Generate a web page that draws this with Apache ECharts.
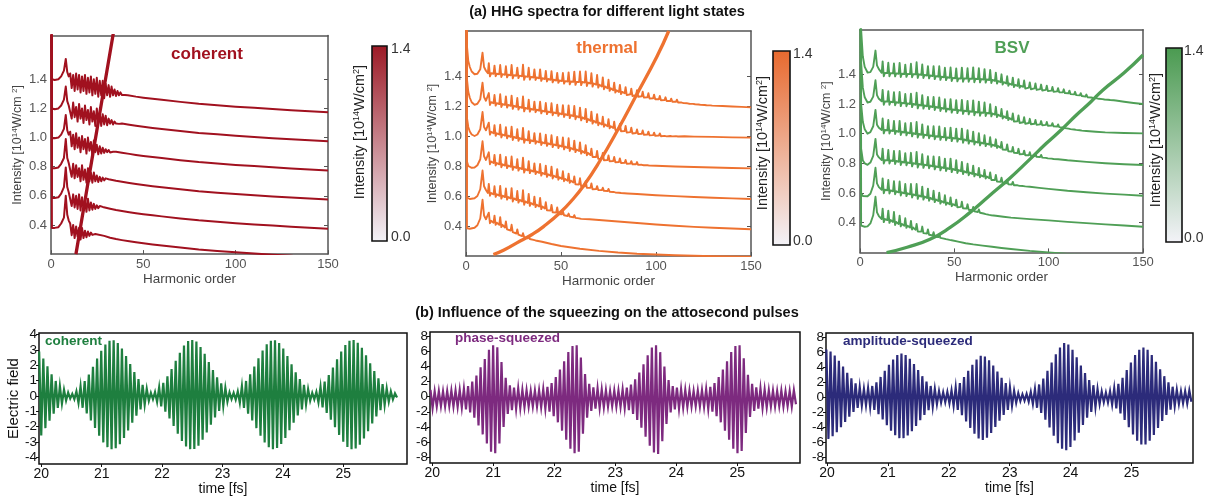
<!DOCTYPE html>
<html>
<head>
<meta charset="utf-8">
<script src="https://cdn.jsdelivr.net/npm/echarts@6/dist/echarts.min.js"></script>
<style>
  html, body { margin: 0; padding: 0; background: #ffffff; }
  #chart { width: 1215px; height: 497px; }
</style>
</head>
<body>
<div id="chart"></div>
<script>
// ---------------- HHG spectra (offset waterfall, one curve per peak intensity) ----------------
const intensityLevels = [0.4, 0.6, 0.8, 1.0, 1.2, 1.4];
const intensityTicks = [0.4, 0.6, 0.8, 1.0, 1.2, 1.4];
const harmonicTicks = [0, 50, 100, 150];
const colorbarLabels = ['1.4', '0.0'];

// harmonic orders of the plateau peaks (thermal and BSV)
const plateauPeakOrders = [12, 15, 18, 21, 24, 27, 30, 33, 36, 39, 42, 45, 48, 51, 54, 57, 60, 63, 66, 69,
  72, 75, 78, 81, 84, 87, 90, 93, 96, 99, 102, 105, 108, 111, 114, 117, 120, 123, 126, 129, 132, 135];

// coherent: values relative to the curve level
const coherentHeadOrders = [0, 0.5, 2, 4, 5.5, 7, 8, 8.8, 9.6];
const coherentHead = [
  [2.5, -0.02, -0.02, -0.015, 0.01, 0.05, 0.2, 0.07, 0.03],
  [2.5, -0.015, -0.015, -0.01, 0.015, 0.06, 0.195, 0.06, 0.025],
  [2.5, -0.01, -0.01, -0.005, 0.02, 0.06, 0.19, 0.06, 0.025],
  [2.5, -0.005, -0.005, 0.0, 0.02, 0.06, 0.155, 0.05, 0.02],
  [2.5, 0.0, -0.005, 0.0, 0.02, 0.06, 0.15, 0.05, 0.02],
  [2.5, 0.0, -0.005, 0.0, 0.02, 0.06, 0.14, 0.05, 0.02]
];
const coherentRippleStart = 10.4;   // harmonic order of the first ripple sample
const coherentRippleStep = 0.8;     // spacing of ripple samples
const coherentRipple = [
  [0.01, -0.07, 0.0, -0.09, -0.01, -0.08, -0.02, -0.1, -0.02, -0.09, -0.04, -0.085, -0.045, -0.075, -0.052, -0.068, -0.058, -0.062],
  [0.03, -0.07, 0.01, -0.08, 0.0, -0.09, 0.01, -0.1, -0.01, -0.09, -0.03, -0.11, -0.02, -0.1, -0.045, -0.095, -0.055, -0.09, -0.065, -0.085, -0.07, -0.08, -0.076],
  [0.03, -0.07, 0.02, -0.08, 0.01, -0.07, -0.01, -0.1, 0.01, -0.09, -0.02, -0.11, -0.01, -0.1, -0.04, -0.11, -0.04, -0.1, -0.06, -0.105, -0.07, -0.1, -0.075, -0.094, -0.08, -0.09, -0.086],
  [0.04, -0.06, 0.02, -0.08, 0.03, -0.07, 0.0, -0.1, 0.01, -0.08, -0.01, -0.11, 0.0, -0.09, -0.03, -0.12, -0.02, -0.1, -0.05, -0.115, -0.06, -0.11, -0.07, -0.105, -0.08, -0.1, -0.085, -0.102, -0.09, -0.098, -0.095],
  [0.03, -0.07, 0.04, -0.06, 0.01, -0.09, 0.03, -0.07, 0.0, -0.1, 0.02, -0.08, -0.01, -0.11, 0.01, -0.09, -0.02, -0.12, 0.0, -0.1, -0.03, -0.12, -0.04, -0.11, -0.05, -0.115, -0.07, -0.105, -0.08, -0.11, -0.09, -0.104, -0.095, -0.106, -0.1],
  [0.04, -0.06, 0.03, -0.08, 0.04, -0.07, 0.03, -0.09, 0.02, -0.08, 0.03, -0.1, 0.01, -0.09, 0.02, -0.11, 0.0, -0.1, 0.01, -0.12, -0.01, -0.11, -0.01, -0.13, -0.03, -0.11, -0.04, -0.12, -0.05, -0.11, -0.07, -0.115, -0.08, -0.11, -0.09, -0.108, -0.097, -0.108, -0.102, -0.11]
];
const coherentTailOrders = [24.8, 28.8, 32, 35.2, 38.4, 42.4, 46, 50, 55, 60, 70, 80, 90, 100, 110, 120, 130, 140, 150];
const coherentTail = [-0.06, -0.075, -0.088, -0.097, -0.104, -0.112, -0.119, -0.126, -0.134, -0.141, -0.155, -0.168, -0.178, -0.188, -0.196, -0.204, -0.212, -0.219, -0.226];
const coherentCutoff = [[13.5, 0.2], [18.5, 0.575], [23.5, 0.95], [28.5, 1.325], [33.8, 1.72]];

// thermal
const thermalHeadOrders = [0, 0.5, 1.2, 2, 3, 4.5, 6, 7.5, 8.7, 9.5, 10.5];
const thermalHead = [
  [2.5, -0.015, -0.018, -0.018, -0.018, -0.012, 0.005, 0.05, 0.175, 0.07, 0.045],
  [2.5, -0.01, -0.018, -0.02, -0.02, -0.015, 0.0, 0.045, 0.17, 0.065, 0.04],
  [2.5, 0.03, 0.0, -0.01, -0.012, -0.01, 0.005, 0.045, 0.165, 0.065, 0.04],
  [2.5, 0.12, 0.06, 0.03, 0.01, 0.0, 0.01, 0.045, 0.16, 0.06, 0.038],
  [2.5, 0.18, 0.095, 0.055, 0.025, 0.008, 0.015, 0.045, 0.155, 0.06, 0.035],
  [2.5, 0.2, 0.1, 0.06, 0.03, 0.012, 0.015, 0.045, 0.155, 0.06, 0.035]
];
const thermalBase = [
  [0.035, 0.022, 0.008, -0.01, -0.03, -0.05, -0.068, -0.082, -0.093],
  [0.02, 0.011, 0.002, -0.007, -0.016, -0.026, -0.036, -0.047, -0.058, -0.07, -0.083, -0.097, -0.11, -0.122, -0.133, -0.142, -0.149],
  [0.03, 0.02, 0.011, 0.003, -0.005, -0.013, -0.021, -0.029, -0.037, -0.046, -0.055, -0.065, -0.075, -0.086, -0.098, -0.11, -0.123, -0.135, -0.146, -0.154, -0.161, -0.167, -0.173, -0.178],
  [0.028, 0.018, 0.01, 0.002, -0.006, -0.014, -0.022, -0.029, -0.035, -0.042, -0.049, -0.056, -0.063, -0.071, -0.08, -0.09, -0.1, -0.113, -0.127, -0.14, -0.151, -0.16, -0.167, -0.173, -0.179, -0.184, -0.188, -0.192, -0.195],
  [0.025, 0.019, 0.013, 0.007, 0.001, -0.006, -0.013, -0.019, -0.025, -0.031, -0.037, -0.043, -0.049, -0.055, -0.061, -0.068, -0.076, -0.087, -0.099, -0.111, -0.123, -0.135, -0.147, -0.158, -0.167, -0.174, -0.18, -0.185, -0.19, -0.194, -0.197, -0.199, -0.2, -0.201],
  [0.018, 0.015, 0.012, 0.008, 0.005, 0.002, -0.002, -0.006, -0.01, -0.015, -0.02, -0.025, -0.03, -0.034, -0.037, -0.039, -0.04, -0.044, -0.05, -0.058, -0.07, -0.082, -0.095, -0.106, -0.115, -0.122, -0.128, -0.135, -0.142, -0.148, -0.155, -0.161, -0.167, -0.172, -0.177, -0.182, -0.186, -0.19, -0.193, -0.196]
];
const thermalPeakHeight = [
  [0.054, 0.047, 0.051, 0.041, 0.038, 0.027, 0.02, 0.016, 0.011],
  [0.061, 0.054, 0.065, 0.057, 0.068, 0.059, 0.074, 0.061, 0.054, 0.057, 0.041, 0.038, 0.034, 0.02, 0.016, 0.014, 0.011],
  [0.061, 0.054, 0.065, 0.057, 0.068, 0.059, 0.076, 0.061, 0.054, 0.059, 0.057, 0.061, 0.054, 0.051, 0.047, 0.041, 0.041, 0.034, 0.03, 0.02, 0.016, 0.014, 0.011, 0.008],
  [0.061, 0.054, 0.065, 0.057, 0.068, 0.059, 0.076, 0.061, 0.054, 0.059, 0.057, 0.061, 0.057, 0.061, 0.065, 0.059, 0.057, 0.051, 0.043, 0.041, 0.038, 0.03, 0.027, 0.024, 0.019, 0.016, 0.014, 0.011, 0.008],
  [0.061, 0.054, 0.065, 0.057, 0.068, 0.059, 0.076, 0.061, 0.054, 0.059, 0.057, 0.061, 0.057, 0.061, 0.065, 0.068, 0.065, 0.068, 0.061, 0.057, 0.051, 0.047, 0.043, 0.038, 0.034, 0.03, 0.024, 0.022, 0.019, 0.016, 0.014, 0.011, 0.009, 0.008],
  [0.068, 0.054, 0.061, 0.057, 0.068, 0.054, 0.078, 0.061, 0.054, 0.059, 0.054, 0.057, 0.051, 0.054, 0.061, 0.068, 0.07, 0.074, 0.068, 0.065, 0.061, 0.057, 0.051, 0.047, 0.041, 0.038, 0.034, 0.03, 0.027, 0.024, 0.022, 0.019, 0.016, 0.014, 0.012, 0.011, 0.009, 0.008, 0.007, 0.005]
];
const thermalTail = [
  [[40, -0.105], [45, -0.12], [50, -0.133], [60, -0.152], [70, -0.166], [80, -0.177], [90, -0.185], [100, -0.19], [110, -0.195], [120, -0.198], [130, -0.201], [150, -0.205]],
  [[65, -0.155], [70, -0.16], [80, -0.17], [90, -0.18], [100, -0.19], [110, -0.198], [120, -0.206], [130, -0.212], [140, -0.217], [150, -0.222]],
  [[85, -0.183], [90, -0.187], [100, -0.195], [110, -0.201], [120, -0.207], [130, -0.212], [140, -0.216], [150, -0.22]],
  [[100, -0.198], [110, -0.203], [120, -0.207], [130, -0.21], [140, -0.213], [150, -0.216]],
  [[115, -0.202], [120, -0.204], [130, -0.206], [140, -0.209], [150, -0.211]],
  [[135, -0.2], [140, -0.203], [145, -0.206], [150, -0.209]]
];
const thermalCutoff = [[14.4, 0.21], [20, 0.24], [28.5, 0.3], [35, 0.345], [40.8, 0.396], [49.6, 0.49], [56, 0.575],
  [62, 0.67], [69.8, 0.82], [79.4, 1.03], [90, 1.28], [100.5, 1.53], [106.7, 1.7]];

// bright squeezed vacuum
const bsvHeadOrders = [0, 0.6, 1.5, 2.5, 4, 5.5, 7, 8.2, 9, 10];
const bsvHead = [
  [2.5, -0.02, -0.027, -0.027, -0.025, -0.005, 0.05, 0.175, 0.07, 0.045],
  [2.5, 0.0, -0.02, -0.022, -0.022, -0.005, 0.05, 0.17, 0.065, 0.04],
  [2.5, 0.1, 0.02, 0.0, -0.01, 0.005, 0.05, 0.165, 0.06, 0.04],
  [2.5, 0.2, 0.08, 0.03, 0.0, 0.01, 0.05, 0.16, 0.06, 0.04],
  [2.5, 0.28, 0.11, 0.045, 0.01, 0.015, 0.05, 0.16, 0.06, 0.035],
  [2.5, 0.3, 0.12, 0.05, 0.012, 0.015, 0.05, 0.16, 0.06, 0.035]
];
const bsvBase = [
  [0.025, 0.018, 0.005, -0.008, -0.02, -0.033, -0.047, -0.06, -0.073, -0.086, -0.097, -0.107, -0.116],
  [0.022, 0.018, 0.012, 0.005, -0.002, -0.009, -0.016, -0.024, -0.033, -0.043, -0.054, -0.065, -0.075, -0.084, -0.093, -0.104, -0.116, -0.128, -0.138, -0.147],
  [0.022, 0.02, 0.016, 0.011, 0.006, 0.001, -0.004, -0.009, -0.014, -0.02, -0.026, -0.032, -0.038, -0.045, -0.053, -0.062, -0.071, -0.08, -0.089, -0.1, -0.112, -0.124, -0.134, -0.142, -0.148, -0.153],
  [0.025, 0.022, 0.018, 0.013, 0.008, 0.003, -0.002, -0.007, -0.012, -0.017, -0.021, -0.025, -0.029, -0.033, -0.039, -0.046, -0.053, -0.06, -0.067, -0.074, -0.083, -0.095, -0.108, -0.12, -0.13, -0.138, -0.145, -0.151, -0.157, -0.163, -0.168],
  [0.018, 0.016, 0.012, 0.008, 0.004, 0, -0.005, -0.01, -0.015, -0.02, -0.026, -0.032, -0.037, -0.041, -0.045, -0.049, -0.053, -0.057, -0.06, -0.064, -0.072, -0.083, -0.095, -0.106, -0.116, -0.123, -0.128, -0.133, -0.137, -0.141, -0.146, -0.152, -0.159, -0.166, -0.172, -0.177],
  [0.01, 0.008, 0.006, 0.004, 0.002, 0.001, 0, -0.004, -0.008, -0.012, -0.016, -0.02, -0.024, -0.027, -0.028, -0.029, -0.03, -0.032, -0.035, -0.038, -0.045, -0.053, -0.062, -0.071, -0.078, -0.084, -0.09, -0.095, -0.1, -0.105, -0.11, -0.115, -0.121, -0.128, -0.135, -0.142, -0.15, -0.156, -0.162, -0.167, -0.171, -0.175]
];
const bsvPeakHeight = [
  [0.07, 0.063, 0.067, 0.056, 0.05, 0.045, 0.039, 0.034, 0.028, 0.022, 0.017, 0.013, 0.008],
  [0.077, 0.07, 0.067, 0.073, 0.063, 0.07, 0.077, 0.067, 0.063, 0.059, 0.056, 0.05, 0.045, 0.039, 0.034, 0.028, 0.022, 0.017, 0.013, 0.008],
  [0.077, 0.07, 0.067, 0.073, 0.063, 0.07, 0.081, 0.07, 0.063, 0.067, 0.07, 0.064, 0.07, 0.067, 0.063, 0.059, 0.056, 0.049, 0.045, 0.039, 0.034, 0.028, 0.022, 0.017, 0.013, 0.008],
  [0.077, 0.07, 0.067, 0.073, 0.063, 0.07, 0.081, 0.07, 0.063, 0.067, 0.07, 0.064, 0.07, 0.067, 0.073, 0.07, 0.067, 0.063, 0.056, 0.05, 0.045, 0.039, 0.035, 0.031, 0.028, 0.024, 0.02, 0.017, 0.014, 0.011, 0.008],
  [0.077, 0.07, 0.067, 0.073, 0.063, 0.07, 0.081, 0.07, 0.063, 0.067, 0.07, 0.064, 0.07, 0.067, 0.073, 0.07, 0.077, 0.073, 0.07, 0.063, 0.053, 0.049, 0.046, 0.042, 0.039, 0.034, 0.028, 0.025, 0.022, 0.02, 0.017, 0.014, 0.013, 0.011, 0.008, 0.007],
  [0.077, 0.07, 0.067, 0.073, 0.063, 0.07, 0.081, 0.07, 0.063, 0.067, 0.07, 0.064, 0.07, 0.067, 0.073, 0.07, 0.077, 0.073, 0.07, 0.067, 0.056, 0.053, 0.049, 0.049, 0.045, 0.042, 0.035, 0.034, 0.031, 0.028, 0.025, 0.022, 0.02, 0.018, 0.017, 0.015, 0.014, 0.011, 0.01, 0.008, 0.007, 0.006]
];
const bsvTail = [
  [[52, -0.127], [56, -0.138], [60, -0.146], [65, -0.154], [70, -0.162], [75, -0.17], [80, -0.177], [90, -0.19], [100, -0.2], [110, -0.21], [120, -0.218]],
  [[72, -0.153], [76, -0.16], [80, -0.166], [90, -0.176], [100, -0.184], [110, -0.194], [120, -0.203], [130, -0.211], [140, -0.219], [150, -0.227]],
  [[90, -0.158], [95, -0.165], [100, -0.172], [110, -0.185], [120, -0.195], [130, -0.204], [140, -0.211], [150, -0.218]],
  [[105, -0.172], [110, -0.179], [120, -0.19], [130, -0.199], [140, -0.206], [150, -0.211]],
  [[120, -0.182], [125, -0.187], [130, -0.191], [140, -0.195], [150, -0.198]],
  [[140, -0.185], [145, -0.193], [150, -0.2]]
];
const bsvCutoff = [[14.1, 0.198], [25, 0.235], [37.1, 0.288], [48, 0.37], [58.2, 0.468], [68, 0.575], [79.4, 0.7],
  [89, 0.815], [98.8, 0.935], [107, 1.03], [114.7, 1.126], [122, 1.21], [128.8, 1.295], [140, 1.41], [150, 1.53]];

// ---------------- attosecond pulse trains: field extrema per carrier cycle ----------------
const timeTicks = [20, 21, 22, 23, 24, 25];
const fieldTicksCoherent = [-4, -3, -2, -1, 0, 1, 2, 3, 4];
const fieldTicksSqueezed = [-8, -6, -4, -2, 0, 2, 4, 6, 8];
const carrierPeriod = 0.0685;   // fs between successive maxima
const coherentStart = 19.965;
const phaseStart = 19.97;
const amplitudeStart = 19.99;

const coherentMax = [2.9, 2.45, 1.93, 1.42, 0.98, 0.64, 0.4, 0.22, 0.14, 0.3,
  0.63, 0.97, 1.4, 1.91, 2.44, 2.95, 3.36, 3.6, 3.64, 3.46,
  3.1, 2.6, 2.08, 1.56, 1.1, 0.73, 0.46, 0.2, 0.25, 0.56,
  0.86, 1.28, 1.76, 2.3, 2.82, 3.3, 3.58, 3.65, 3.55, 3.2,
  2.76, 2.22, 1.7, 1.22, 0.83, 0.53, 0.24, 0.2, 0.3, 0.64,
  0.98, 1.42, 1.92, 2.46, 2.96, 3.37, 3.61, 3.64, 3.45, 3.1,
  2.6, 2.07, 1.55, 1.1, 0.72, 0.45, 0.2, 0.26, 0.6, 0.94,
  1.36, 1.86, 2.4, 2.9, 3.33, 3.6, 3.65, 3.48, 3.14, 2.66,
  2.14, 1.62, 1.15, 0.77, 0.49, 0.3, 0.17];
const coherentMin = [-2.57, -2.1, -1.61, -1.15, -0.78, -0.5, -0.3, -0.17, -0.21, -0.45,
  -0.77, -1.14, -1.59, -2.09, -2.59, -3.03, -3.34, -3.48, -3.41, -3.15,
  -2.74, -2.25, -1.75, -1.28, -0.88, -0.57, -0.32, -0.22, -0.39, -0.68,
  -1.03, -1.46, -1.95, -2.46, -2.94, -3.3, -3.47, -3.46, -3.24, -2.86,
  -2.39, -1.88, -1.4, -0.98, -0.65, -0.37, -0.21, -0.24, -0.45, -0.78,
  -1.15, -1.6, -2.1, -2.6, -3.04, -3.35, -3.48, -3.4, -3.14, -2.74,
  -2.24, -1.74, -1.27, -0.87, -0.56, -0.31, -0.22, -0.41, -0.74, -1.1,
  -1.55, -2.04, -2.54, -2.99, -3.33, -3.48, -3.42, -3.18, -2.78, -2.3,
  -1.8, -1.33, -0.92, -0.6, -0.38, -0.23, -0.1];

const phaseMax = [0.9, 0.7, 0.75, 0.7, 0.75, 0.8, 0.8, 0.9, 1.05, 1.4,
  2.0, 2.8, 3.9, 5.0, 6.2, 6.8, 6.55, 4.6, 2.5, 1.5,
  1.2, 1.1, 0.9, 0.85, 0.75, 0.8, 0.85, 1.0, 1.3, 1.8,
  2.6, 3.6, 4.7, 5.9, 6.7, 6.8, 5.2, 3.0, 1.7, 1.25,
  1.1, 0.95, 0.85, 0.75, 0.8, 0.8, 0.95, 1.2, 1.6, 2.3,
  3.2, 4.3, 5.5, 6.5, 6.8, 5.9, 4.0, 2.2, 1.4, 1.2,
  1.0, 0.9, 0.8, 0.75, 0.8, 0.85, 1.0, 1.3, 1.8, 2.6,
  3.6, 4.7, 5.9, 6.7, 6.8, 5.1, 2.9, 1.7, 1.25, 1.1,
  0.95, 0.85, 0.8, 0.75, 0.8, 0.7, 0.75, 0.85];
const phaseMin = [-1.5, -1.3, -1.25, -1.3, -1.25, -1.3, -1.35, -1.45, -1.7, -2.1,
  -2.8, -3.8, -5.0, -6.2, -7.3, -7.5, -6.2, -4.0, -2.3, -1.8,
  -1.6, -1.5, -1.4, -1.3, -1.3, -1.3, -1.4, -1.6, -2.0, -2.6,
  -3.4, -4.5, -5.7, -6.9, -7.5, -7.3, -4.9, -2.8, -1.9, -1.6,
  -1.5, -1.4, -1.3, -1.25, -1.3, -1.35, -1.5, -1.8, -2.3, -3.1,
  -4.1, -5.3, -6.5, -7.4, -7.6, -5.9, -3.6, -2.1, -1.7, -1.6,
  -1.45, -1.35, -1.3, -1.25, -1.3, -1.35, -1.6, -2.0, -2.6, -3.4,
  -4.5, -5.7, -6.9, -7.5, -7.2, -4.8, -2.7, -1.9, -1.6, -1.5,
  -1.4, -1.3, -1.3, -1.25, -1.3, -1.25, -1.3, -1.0];

const amplitudeMax = [6.35, 6.06, 5.54, 4.84, 4.07, 3.26, 2.52, 1.85, 1.35, 1.1,
  1.2, 1.5, 2.0, 2.7, 3.5, 4.3, 5.0, 5.6, 5.8, 5.6,
  5.1, 4.4, 3.6, 2.8, 2.1, 1.5, 1.1, 0.8, 0.65, 0.7,
  0.9, 1.3, 1.9, 2.7, 3.5, 4.3, 5.0, 5.5, 5.4, 4.9,
  4.2, 3.4, 2.6, 1.9, 1.3, 0.85, 0.55, 0.4, 0.45, 0.7,
  1.1, 1.7, 2.5, 3.5, 4.6, 5.7, 6.6, 7.2, 7.0, 6.3,
  5.3, 4.2, 3.2, 2.3, 1.6, 1.1, 0.75, 0.6, 0.8, 1.2,
  1.8, 2.6, 3.6, 4.6, 5.6, 6.3, 6.6, 6.3, 5.6, 4.7,
  3.7, 2.8, 2.0, 1.4, 1.0, 0.8, 0.8, 0.9];
const amplitudeMin = [-5.52, -5.16, -4.62, -3.97, -3.26, -2.57, -1.95, -1.42, -1.1, -1.05,
  -1.28, -1.66, -2.23, -2.95, -3.7, -4.42, -5.04, -5.42, -5.42, -5.08,
  -4.51, -3.8, -3.04, -2.33, -1.71, -1.24, -0.9, -0.69, -0.64, -0.8,
  -1.14, -1.66, -2.39, -3.22, -4.06, -4.84, -5.46, -5.67, -5.36, -4.73,
  -3.95, -3.12, -2.34, -1.66, -1.12, -0.73, -0.49, -0.44, -0.57, -0.89,
  -1.39, -2.08, -2.97, -4.01, -5.1, -6.09, -6.83, -7.03, -6.58, -5.74,
  -4.7, -3.66, -2.72, -1.93, -1.32, -0.9, -0.65, -0.68, -0.97, -1.46,
  -2.13, -3.0, -3.98, -4.95, -5.77, -6.26, -6.26, -5.77, -5.0, -4.07,
  -3.15, -2.33, -1.65, -1.16, -0.87, -0.78, -0.82, -0.6];

// ---------------- styling ----------------
const FONT = '"Liberation Sans", Arial, Helvetica, sans-serif';
const RED = '#a1111f', ORANGE = '#ee7230', GREEN = '#4f9f56';
const FIELD_GREEN = '#1e7f3f', FIELD_PURPLE = '#7d2a7f', FIELD_NAVY = '#2c2b7a';
const FRAME = '#555555';
const PEAK_HALF_WIDTH = 0.5;   // half width of a drawn harmonic peak, in harmonic orders
const PEAK_UNDERSHOOT = 0.3;   // dip after each harmonic peak, as a share of its height

// ---------------- curve builders ----------------
function plateauCurve(level, headOrders, head, base, height, tail) {
  const pts = headOrders.map((o, i) => [o, level + head[i]]);
  base.forEach((b, i) => {
    const o = plateauPeakOrders[i];
    const h = height[i];
    pts.push([o - PEAK_HALF_WIDTH, level + b], [o, level + b + h],
      [o + PEAK_HALF_WIDTH * 1.2, level + b - h * PEAK_UNDERSHOOT], [o + PEAK_HALF_WIDTH * 2.4, level + b]);
  });
  tail.forEach(([o, v]) => pts.push([o, level + v]));
  return pts;
}
function coherentCurve(idx) {
  const level = intensityLevels[idx];
  const pts = coherentHeadOrders.map((o, i) => [o, level + coherentHead[idx][i]]);
  const ripple = coherentRipple[idx];
  ripple.forEach((v, i) => pts.push([coherentRippleStart + i * coherentRippleStep, level + v]));
  const last = coherentRippleStart + (ripple.length - 1) * coherentRippleStep;
  coherentTailOrders.forEach((o, i) => { if (o > last + 0.3) pts.push([o, level + coherentTail[i]]); });
  return pts;
}
function fieldTrace(start, maxima, minima) {
  const pts = [];
  maxima.forEach((m, k) => {
    pts.push([start + k * carrierPeriod, m]);
    pts.push([start + (k + 0.5) * carrierPeriod, minima[k]]);
  });
  return pts;
}

// ---------------- layout ----------------
const grids = [
  { left: 51, top: 35.6, width: 277, height: 218.5 },
  { left: 466, top: 31, width: 285, height: 225 },
  { left: 860, top: 29.8, width: 283, height: 222.6 },
  { left: 39, top: 333, width: 368, height: 131 },
  { left: 430, top: 332, width: 370, height: 131 },
  { left: 826, top: 333, width: 367, height: 130 }
];

const supRich = { s: { fontSize: 8, fontFamily: FONT, verticalAlign: 'top', color: '#444' } };
const xAxes = [], yAxes = [];
for (let g = 0; g < 3; g++) {
  const lineStyle = { color: FRAME, width: 1.5 };
  xAxes.push({
    type: 'value', gridIndex: g, min: 0, max: 150, position: 'bottom',
    axisLine: { show: true, onZero: false, lineStyle },
    axisTick: { show: true, inside: true, length: 4, customValues: harmonicTicks, lineStyle: { color: FRAME } },
    axisLabel: { customValues: harmonicTicks, color: '#555', fontSize: 13, fontFamily: FONT, margin: 4 },
    splitLine: { show: false },
    name: 'Harmonic order', nameLocation: 'middle', nameGap: 18,
    nameTextStyle: { color: '#444', fontSize: 13.5, fontFamily: FONT }
  });
  xAxes.push({
    type: 'value', gridIndex: g, min: 0, max: 150, position: 'top',
    axisLine: { show: true, onZero: false, lineStyle }, axisTick: { show: false }, axisLabel: { show: false }, splitLine: { show: false }
  });
  yAxes.push({
    type: 'value', gridIndex: g, min: 0.2, max: 1.7, position: 'left',
    axisLine: { show: true, onZero: false, lineStyle },
    axisTick: { show: true, inside: true, length: 4, customValues: intensityTicks, lineStyle: { color: FRAME } },
    axisLabel: { customValues: intensityTicks, color: '#555', fontSize: 13, fontFamily: FONT, margin: 4, formatter: v => v.toFixed(1) },
    splitLine: { show: false },
    name: 'Intensity [10{s|14}W/cm {s|2}]', nameLocation: 'middle', nameGap: 27, nameRotate: 90,
    nameTextStyle: { color: '#444', fontSize: 12.5, fontFamily: FONT, rich: supRich }
  });
  yAxes.push({
    type: 'value', gridIndex: g, min: 0.2, max: 1.7, position: 'right',
    axisLine: { show: true, onZero: false, lineStyle },
    axisTick: { show: true, inside: true, length: 4, customValues: intensityTicks, lineStyle: { color: FRAME } },
    axisLabel: { show: false }, splitLine: { show: false }
  });
}
const fieldRanges = [[-4.44, 4.11, fieldTicksCoherent], [-8.79, 8.57, fieldTicksSqueezed], [-8.72, 8.53, fieldTicksSqueezed]];
const timeRanges = [[19.962, 26.055], [19.962, 26.03], [19.984, 26.01]];
for (let p = 0; p < 3; p++) {
  const g = 3 + p;
  xAxes.push({
    type: 'value', gridIndex: g, min: timeRanges[p][0], max: timeRanges[p][1], position: 'bottom',
    axisLine: { show: false, onZero: false },
    axisTick: { show: true, length: 3, customValues: timeTicks, lineStyle: { color: '#111' } },
    axisLabel: { customValues: timeTicks, color: '#111', fontSize: 14, fontFamily: FONT, margin: 3 },
    splitLine: { show: false },
    name: 'time [fs]', nameLocation: 'middle', nameGap: 9,
    nameTextStyle: { color: '#111', fontSize: 14, fontFamily: FONT }
  });
  yAxes.push({
    type: 'value', gridIndex: g, min: fieldRanges[p][0], max: fieldRanges[p][1], position: 'left',
    axisLine: { show: false, onZero: false },
    axisTick: { show: true, length: 3, customValues: fieldRanges[p][2], lineStyle: { color: '#111' } },
    axisLabel: { customValues: fieldRanges[p][2], color: '#111', fontSize: 13.5, fontFamily: FONT, margin: 2 },
    splitLine: { show: false },
    name: p === 0 ? 'Electric field' : '', nameLocation: 'middle', nameGap: 12, nameRotate: 90,
    nameTextStyle: { color: '#111', fontSize: 15, fontFamily: FONT }
  });
}

// ---------------- series ----------------
const series = [];
function addLine(g, data, color, width, smooth) {
  series.push({
    type: 'line', xAxisIndex: 2 * g, yAxisIndex: 2 * g, data, showSymbol: false, symbol: 'none',
    clip: true, silent: true, animation: false, smooth: !!smooth,
    lineStyle: { color, width, join: 'round' }
  });
}
for (let i = 0; i < 6; i++) addLine(0, coherentCurve(i), RED, 2);
addLine(0, coherentCutoff, RED, 3.3);
for (let i = 0; i < 6; i++) {
  addLine(1, plateauCurve(intensityLevels[i], thermalHeadOrders, thermalHead[i], thermalBase[i], thermalPeakHeight[i], thermalTail[i]), ORANGE, 1.9);
  addLine(2, plateauCurve(intensityLevels[i], bsvHeadOrders, bsvHead[i], bsvBase[i], bsvPeakHeight[i], bsvTail[i]), GREEN, 1.9);
}
addLine(1, thermalCutoff, ORANGE, 3.3, true);
addLine(2, bsvCutoff, GREEN, 3.3, true);

const fieldSeries = [
  [fieldTrace(coherentStart, coherentMax, coherentMin), FIELD_GREEN],
  [fieldTrace(phaseStart, phaseMax, phaseMin), FIELD_PURPLE],
  [fieldTrace(amplitudeStart, amplitudeMax, amplitudeMin), FIELD_NAVY]
];
fieldSeries.forEach(([data, color], p) => {
  series.push({
    type: 'line', xAxisIndex: 6 + p, yAxisIndex: 6 + p, data, symbol: 'none', clip: true, silent: true,
    lineStyle: { color, width: 2.2, join: 'miter' }
  });
});

// ---------------- free text and colour bars ----------------
function text(x, y, str, opts) {
  return {
    type: 'text', x, y, silent: true,
    style: Object.assign({ text: str, fontFamily: FONT, fontSize: 14, fill: '#111', align: 'center', verticalAlign: 'middle' }, opts || {})
  };
}
function colorbar(x, y, w, h, color, labelX, titleX, titleY) {
  return [
    {
      type: 'rect', silent: true, shape: { x, y, width: w, height: h },
      style: {
        fill: new echarts.graphic.LinearGradient(0, 0, 0, 1, [{ offset: 0, color }, { offset: 1, color: '#f3f3f8' }]),
        stroke: '#111', lineWidth: 1.6
      }
    },
    text(labelX, y + 3, colorbarLabels[0], { align: 'left', fill: '#333' }),
    text(labelX, y + h - 4, colorbarLabels[1], { align: 'left', fill: '#333' }),
    {
      type: 'text', x: titleX, y: titleY, rotation: Math.PI / 2, silent: true,
      style: {
        text: 'Intensity [10{s|14}W/cm{s|2}]', fontFamily: FONT, fontSize: 14.5, fill: '#222',
        align: 'center', verticalAlign: 'middle',
        rich: { s: { fontSize: 9, fontFamily: FONT, verticalAlign: 'top', fill: '#222' } }
      }
    }
  ];
}

const graphic = [].concat(
  [text(607, 12, '(a) HHG spectra for different light states', { fontWeight: 'bold', fontSize: 14.5 })],
  [text(607, 313, '(b) Influence of the squeezing on the attosecond pulses', { fontWeight: 'bold', fontSize: 14.5 })],
  [text(207, 54, 'coherent', { fontWeight: 'bold', fontSize: 17, fill: RED })],
  [text(607, 48, 'thermal', { fontWeight: 'bold', fontSize: 17, fill: ORANGE })],
  [text(1012, 48, 'BSV', { fontWeight: 'bold', fontSize: 17, fill: GREEN })],
  colorbar(372, 46, 15, 195, '#9c1a26', 391, 360, 132),
  colorbar(773, 51, 17, 194, '#e8692e', 793, 763, 143),
  colorbar(1166, 48, 16, 194, '#4a9a50', 1184, 1156, 140),
  [text(45, 341, 'coherent', { fontWeight: 'bold', fontSize: 13.5, fill: FIELD_GREEN, align: 'left' })],
  [text(455, 338, 'phase-squeezed', { fontWeight: 'bold', fontSize: 13.5, fill: FIELD_PURPLE, align: 'left' })],
  [text(843, 341, 'amplitude-squeezed', { fontWeight: 'bold', fontSize: 13.5, fill: FIELD_NAVY, align: 'left' })]
);

const chart = echarts.init(document.getElementById('chart'), null, { renderer: 'canvas' });
chart.setOption({
  backgroundColor: '#ffffff',
  animation: false,
  grid: grids.map((g, i) => Object.assign({}, g, i >= 3 ? { show: true, borderColor: '#111', borderWidth: 1.5 } : {})),
  xAxis: xAxes,
  yAxis: yAxes,
  series,
  graphic
});
</script>
</body>
</html>
